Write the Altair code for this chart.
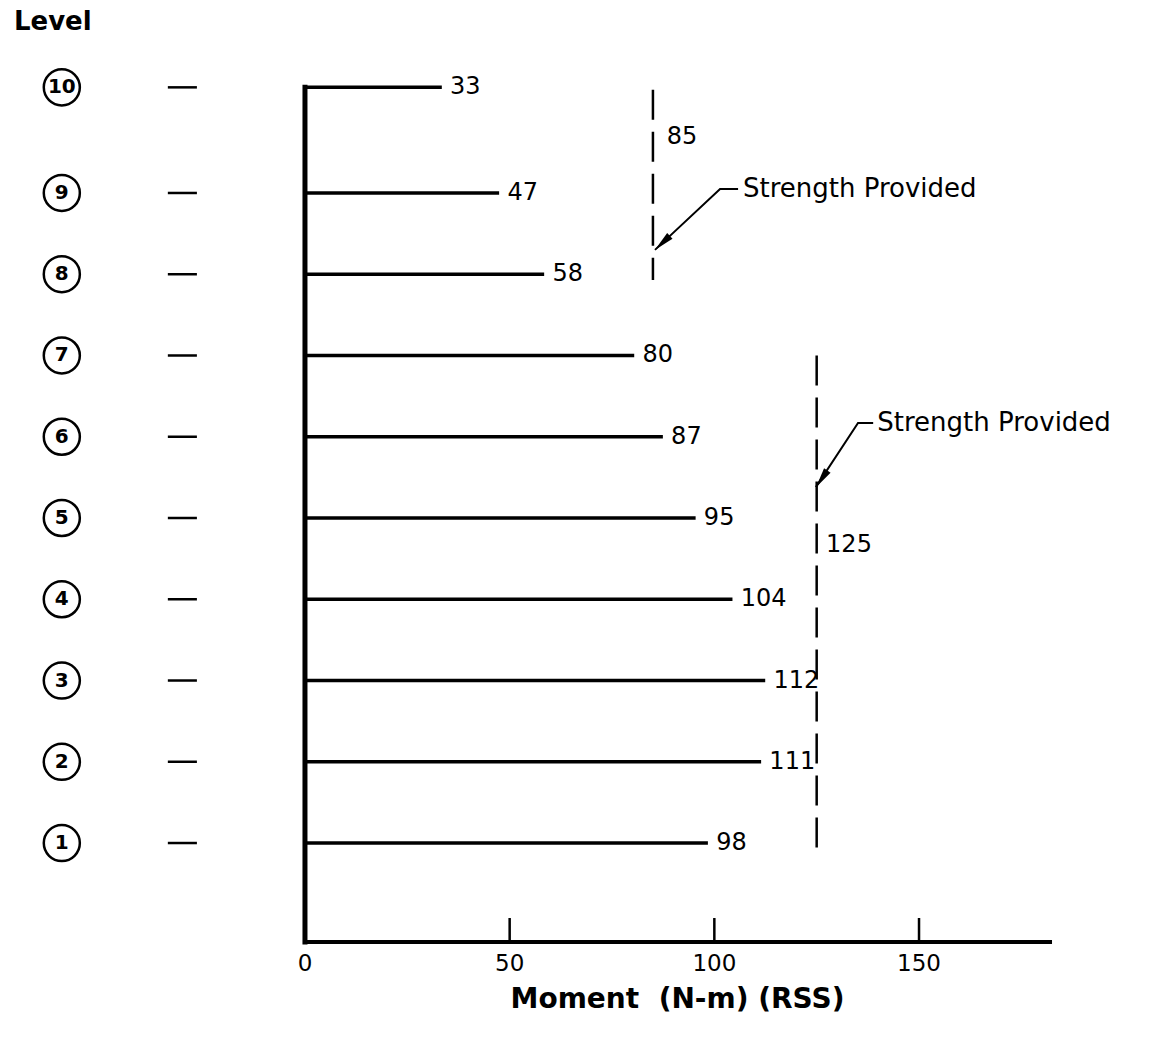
import altair as alt
import pandas as pd

# ---- data ----
levels = [1, 2, 3, 4, 5, 6, 7, 8, 9, 10]
elevation = [1, 2, 3, 4, 5, 6, 7, 8, 9, 10.3]      # drawn height of each level (roof sits a bit higher)
moments = [98, 111, 112, 104, 95, 87, 80, 58, 47, 33]
tick_values = [0, 50, 100, 150]
x_axis_max = 182

# strength provided (dashed lines)
strength_values = [85, 125]
strength_low = [7.93, 0.88]
strength_high = [10.27, 7.0]
strength_label_x = [88.4, 127.3]
strength_label_y = [9.69, 4.67]
# annotation leader: tip on the dashed line, elbow, end near text
lead_tip_x = [85.5, 124.8]
lead_tip_y = [8.30, 5.38]
lead_elbow_x = [101.4, 135.1]
lead_elbow_y = [9.05, 6.17]
lead_end_x = [105.8, 138.8]
head_x = [87.3, 126.2]
head_y = [8.385, 5.48]
head_angle = [227, 214]
text_x = [107.0, 139.8]

axis_y = -0.2185
tick_top = 0.077
level_circle_x = -59.4
dash_x1, dash_x2 = -33.5, -26.4

X = alt.Scale(domain=[-74.5, 209.6], nice=False, zero=False)
Y = alt.Scale(domain=[-1.498, 11.375], nice=False, zero=False)
FONT = "DejaVu Sans"

bars = pd.DataFrame({"level": levels, "y": elevation, "m": moments, "x0": [0] * 10})
bar_rules = alt.Chart(bars).mark_rule(color="black", strokeWidth=3.5, strokeCap="square").encode(
    x=alt.X("x0:Q", scale=X, axis=None), x2="m:Q", y=alt.Y("y:Q", scale=Y, axis=None))
bar_text = alt.Chart(bars).mark_text(align="left", baseline="middle", dx=10, font=FONT,
                                     fontSize=24, color="black").encode(
    x=alt.X("m:Q", scale=X, axis=None), y=alt.Y("y:Q", scale=Y, axis=None), text="m:Q")

# axes drawn as rules
vaxis = alt.Chart(pd.DataFrame({"x": [0], "y": [axis_y], "y2": [elevation[-1]]})).mark_rule(
    color="black", strokeWidth=5, strokeCap="square").encode(
    x=alt.X("x:Q", scale=X, axis=None), y=alt.Y("y:Q", scale=Y, axis=None), y2="y2:Q")
haxis = alt.Chart(pd.DataFrame({"x": [0], "x2": [x_axis_max], "y": [axis_y]})).mark_rule(
    color="black", strokeWidth=4, strokeCap="square").encode(
    x=alt.X("x:Q", scale=X, axis=None), x2="x2:Q", y=alt.Y("y:Q", scale=Y, axis=None))
ticks_df = pd.DataFrame({"x": tick_values, "y": [axis_y] * 4, "y2": [tick_top] * 4,
                         "lab": [str(v) for v in tick_values], "ly": [-0.49] * 4})
ticks = alt.Chart(ticks_df[ticks_df.x > 0]).mark_rule(color="black", strokeWidth=2.5).encode(
    x=alt.X("x:Q", scale=X, axis=None), y=alt.Y("y:Q", scale=Y, axis=None), y2="y2:Q")
tick_labels = alt.Chart(ticks_df).mark_text(baseline="middle", font=FONT, fontSize=23,
                                            color="black").encode(
    x=alt.X("x:Q", scale=X, axis=None), y=alt.Y("ly:Q", scale=Y, axis=None), text="lab:N")
x_title = alt.Chart(pd.DataFrame({"x": [x_axis_max / 2], "y": [-0.93],
                                  "t": ["Moment\u00a0 (N-m) (RSS)"]})).mark_text(
    baseline="middle", font=FONT, fontSize=28, fontWeight="bold", color="black").encode(
    x=alt.X("x:Q", scale=X, axis=None), y=alt.Y("y:Q", scale=Y, axis=None), text="t:N")
y_title = alt.Chart(pd.DataFrame({"x": [-61.6], "y": [11.1], "t": ["Level"]})).mark_text(
    baseline="middle", font=FONT, fontSize=26, fontWeight="bold", color="black").encode(
    x=alt.X("x:Q", scale=X, axis=None), y=alt.Y("y:Q", scale=Y, axis=None), text="t:N")

# level markers: circled numbers and dashes
lev = pd.DataFrame({"x": [level_circle_x] * 10, "y": elevation, "lab": [str(l) for l in levels],
                    "d1": [dash_x1] * 10, "d2": [dash_x2] * 10})
circles = alt.Chart(lev).mark_point(shape="circle", size=1300, filled=False, color="black",
                                    strokeWidth=2.5, opacity=1).encode(
    x=alt.X("x:Q", scale=X, axis=None), y=alt.Y("y:Q", scale=Y, axis=None))
circle_text = alt.Chart(lev).mark_text(baseline="middle", font=FONT, fontSize=20,
                                       fontWeight="bold", color="black").encode(
    x=alt.X("x:Q", scale=X, axis=None), y=alt.Y("y:Q", scale=Y, axis=None), text="lab:N")
dashes = alt.Chart(lev).mark_rule(color="black", strokeWidth=2.5).encode(
    x=alt.X("d1:Q", scale=X, axis=None), x2="d2:Q", y=alt.Y("y:Q", scale=Y, axis=None))

# strength provided
sp = pd.DataFrame({"x": strength_values, "y": strength_low, "y2": strength_high,
                   "lx": strength_label_x, "ly": strength_label_y,
                   "lab": [str(v) for v in strength_values]})
sp_rules = alt.Chart(sp).mark_rule(color="black", strokeWidth=2.5, strokeDash=[30, 12]).encode(
    x=alt.X("x:Q", scale=X, axis=None), y=alt.Y("y2:Q", scale=Y, axis=None), y2="y:Q")
sp_text = alt.Chart(sp).mark_text(align="left", baseline="middle", font=FONT, fontSize=24,
                                  color="black").encode(
    x=alt.X("lx:Q", scale=X, axis=None), y=alt.Y("ly:Q", scale=Y, axis=None), text="lab:N")

rows = []
for i in range(2):
    rows.append({"g": i, "o": 0, "x": lead_tip_x[i], "y": lead_tip_y[i]})
    rows.append({"g": i, "o": 1, "x": lead_elbow_x[i], "y": lead_elbow_y[i]})
    rows.append({"g": i, "o": 2, "x": lead_end_x[i], "y": lead_elbow_y[i]})
leaders = alt.Chart(pd.DataFrame(rows)).mark_line(color="black", strokeWidth=2).encode(
    x=alt.X("x:Q", scale=X, axis=None), y=alt.Y("y:Q", scale=Y, axis=None),
    detail="g:N", order="o:Q")
heads = alt.Chart(pd.DataFrame({"x": head_x, "y": head_y, "a": head_angle})).mark_point(
    shape="M0,-1L0.38,1L-0.38,1Z", size=420, filled=True, color="black", opacity=1,
    strokeWidth=0).encode(
    x=alt.X("x:Q", scale=X, axis=None), y=alt.Y("y:Q", scale=Y, axis=None),
    angle=alt.Angle("a:Q", scale=None))
ann_text = alt.Chart(pd.DataFrame({"x": text_x, "y": lead_elbow_y,
                                   "t": ["Strength Provided"] * 2})).mark_text(
    align="left", baseline="middle", font=FONT, fontSize=26, color="black").encode(
    x=alt.X("x:Q", scale=X, axis=None), y=alt.Y("y:Q", scale=Y, axis=None), text="t:N")

chart = alt.layer(
    bar_rules, vaxis, haxis, ticks, tick_labels, x_title, y_title,
    circles, circle_text, dashes, bar_text, sp_rules, sp_text, leaders, heads, ann_text
).properties(
    width=1163, height=1046, padding=0, autosize="none", background="white"
).configure_view(stroke=None)

chart.save("out.html", embed_options={"renderer": "svg", "actions": False})
